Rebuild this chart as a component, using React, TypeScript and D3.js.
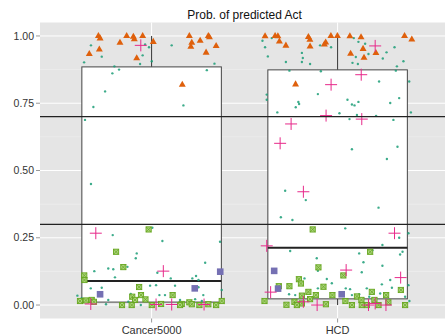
import React from 'react';
import * as d3 from 'd3';

// categories and box statistics
const categories = ['Cancer5000', 'HCD'];
const boxLower = [0.0, 0.0];
const boxQ1 = [0.011, 0.023];
const boxMedian = [0.089, 0.213];
const boxQ3 = [0.885, 0.874];
const boxUpper = [1.0, 1.0];
const thresholds = [0.7, 0.3];
const yTicks = [0, 0.25, 0.5, 0.75, 1];
const yMinor = [0.125, 0.375, 0.625, 0.875];

// jittered points: [x position (1 = Cancer5000, 2 = HCD), probability]
const triangles = [
  [0.714, 1.0], [0.723, 0.991], [0.719, 0.95], [0.665, 0.933], [0.83, 0.975], [0.866, 1.0], [0.902, 0.997],
  [0.907, 0.988], [0.952, 1.0], [1.009, 0.978], [0.92, 0.917], [1.203, 1.0], [1.216, 0.975], [1.211, 0.96],
  [1.261, 0.982], [1.305, 1.0], [1.311, 0.995], [1.347, 0.963], [1.293, 0.938], [1.165, 0.819],
  [1.61, 0.999], [1.664, 1.0], [1.679, 0.999], [1.687, 0.979], [1.722, 0.964], [1.843, 0.996], [1.851, 0.986],
  [1.852, 0.961], [1.936, 0.976], [1.929, 0.968], [1.964, 1.0], [1.999, 1.0], [2.066, 0.999], [2.126, 0.995],
  [2.137, 0.952], [2.07, 0.934], [2.206, 0.937], [2.142, 0.919], [2.36, 1.0], [2.399, 0.987], [1.774, 0.82],
];

const dots = [
  [0.674, 0.965], [0.732, 0.923], [0.637, 0.902], [0.965, 0.968], [0.986, 0.958], [0.952, 0.928], [0.938, 0.896],
  [1.001, 0.906], [0.8, 0.887], [0.825, 0.875], [0.789, 0.861], [1.108, 0.965], [1.338, 0.897], [1.297, 0.873],
  [0.75, 0.794], [0.687, 0.736], [1.171, 0.742], [0.642, 0.688], [0.674, 0.45],
  [1.004, 0.287], [0.791, 0.26], [1.058, 0.238], [0.92, 0.192], [0.915, 0.174], [0.767, 0.136], [0.794, 0.133],
  [1.288, 0.157], [0.87, 0.142], [0.692, 0.126], [0.803, 0.103], [1.103, 0.099], [1.031, 0.12], [1.219, 0.099],
  [1.239, 0.108], [1.252, 0.093], [1.368, 0.235], [0.673, 0.062], [0.732, 0.064], [0.992, 0.072], [1.024, 0.074],
  [1.126, 0.072], [1.252, 0.066], [1.377, 0.056], [0.601, 0.035], [0.624, 0.025], [0.888, 0.041], [1.042, 0.037],
  [1.072, 0.037], [1.278, 0.037], [0.767, 0.019], [0.755, 0.003], [0.875, 0.012], [0.942, 0.0], [1.153, 0.019],
  [1.234, 0.022], [1.27, 0.015],
  [1.596, 0.982], [1.61, 0.958], [1.625, 0.924], [1.646, 0.992], [1.722, 0.903], [1.808, 0.937], [1.813, 0.918],
  [1.808, 0.903], [1.852, 0.896], [1.843, 1.0], [1.906, 0.965], [1.965, 0.958], [1.741, 0.871], [1.91, 0.869],
  [2.087, 0.992], [2.112, 0.978], [2.148, 0.971], [2.098, 0.922], [2.08, 0.9], [2.109, 0.896], [2.166, 0.933],
  [2.243, 0.916], [2.263, 0.939], [2.306, 0.958], [2.354, 0.906], [2.319, 0.887], [2.313, 0.871], [2.385, 0.831],
  [2.223, 0.831], [1.894, 0.784], [1.619, 0.782], [1.619, 0.763], [1.789, 0.755], [2.053, 0.763], [2.077, 0.745],
  [2.091, 0.742], [2.112, 0.755], [2.283, 0.751], [2.331, 0.769], [1.676, 0.716], [1.775, 0.735], [1.793, 0.747],
  [2.01, 0.713], [2.064, 0.691], [2.104, 0.706], [2.207, 0.703], [2.3, 0.688], [2.394, 0.716], [2.077, 0.579],
  [2.322, 0.588], [2.265, 0.543], [1.718, 0.425], [1.829, 0.39], [2.22, 0.362], [1.695, 0.326], [1.757, 0.316],
  [2.041, 0.285], [2.331, 0.25], [2.381, 0.267], [1.745, 0.201], [2.116, 0.192], [2.187, 0.204], [2.241, 0.223],
  [2.349, 0.198], [2.336, 0.188], [1.888, 0.174], [2.139, 0.159], [2.241, 0.146], [2.13, 0.122], [1.894, 0.127],
  [1.942, 0.097], [2.023, 0.114], [2.283, 0.093], [2.381, 0.074], [1.822, 0.099], [1.894, 0.062], [1.969, 0.081],
  [2.044, 0.062], [2.157, 0.062], [2.238, 0.077], [2.292, 0.064], [2.067, 0.059], [1.739, 0.04], [1.772, 0.037],
  [2.077, 0.037], [2.116, 0.04], [2.17, 0.031], [2.229, 0.043], [2.363, 0.031], [2.386, 0.015],
];

const pluses = [
  [0.942, 0.965], [0.7, 0.267], [1.063, 0.126], [0.673, 0.004], [1.024, 0.002], [1.108, 0.002], [1.282, 0.002],
  [2.202, 0.963], [2.127, 0.856], [1.965, 0.819], [1.938, 0.704], [2.13, 0.691], [1.75, 0.673], [1.691, 0.601],
  [1.816, 0.421], [1.619, 0.22], [2.306, 0.267], [2.046, 0.13], [2.339, 0.102], [1.64, 0.048], [1.816, 0.012],
  [1.89, 0.0], [2.166, 0.0], [2.202, 0.006], [2.26, 0.0],
];

const squares = [
  [0.723, 0.04], [1.232, 0.062], [1.369, 0.124],
  [1.659, 0.127], [1.68, 0.061], [2.022, 0.04],
];

const crossSquares = [
  [0.984, 0.281], [0.809, 0.198], [0.848, 0.141], [0.638, 0.11], [0.639, 0.093], [0.933, 0.067], [1.113, 0.037],
  [0.896, 0.031], [0.943, 0.037], [0.911, 0.019], [0.615, 0.015], [0.678, 0.019], [0.69, 0.012], [0.841, 0.0],
  [0.893, 0.0], [0.967, 0.021], [1.051, 0.004], [1.162, 0.004], [1.203, 0.01], [1.216, 0.003], [1.257, 0.0],
  [1.305, 0.003], [1.347, 0.0], [1.377, 0.015], [1.001, 0.0], [1.153, 0.0], [0.647, 0.017],
  [1.866, 0.281], [2.175, 0.198], [1.897, 0.14], [2.031, 0.11], [1.792, 0.096], [1.803, 0.08], [1.741, 0.07],
  [1.684, 0.07], [1.843, 0.049], [1.924, 0.068], [1.883, 0.037], [1.808, 0.035], [1.607, 0.015], [1.725, 0.001],
  [1.768, 0.012], [1.808, 0.006], [1.852, 0.022], [1.937, 0.003], [1.972, 0.037], [2.042, 0.015], [2.077, 0.0],
  [2.104, 0.032], [2.128, 0.019], [2.184, 0.049], [2.157, 0.0], [2.198, 0.019], [2.22, 0.0], [2.261, 0.037],
  [2.273, 0.01], [2.34, 0.056], [2.363, 0.0], [1.781, 0.0], [2.13, 0.0],
];

const W = 445;
const H = 336;
const font = 'Liberation Sans, Arial, Helvetica, sans-serif';

export default function App() {
  const x = d3.scaleLinear().domain([0.4, 2.6]).range([40, 449.2]);
  const y = d3.scaleLinear().domain([-0.05, 1.05]).range([318.5, 22.5]);
  const [x0, x1] = x.range();
  const [yb, yt] = y.range();
  const halfBox = 0.375;
  const tri = d3.symbol().type(d3.symbolTriangle).size(21)();

  return (
    <svg width={W} height={H} style={{ position: 'absolute', left: 0, top: 0 }} fontFamily={font}>
      <rect x={0} y={0} width={W} height={H} fill="#fff" />
      <text x={(x0 + x1) / 2} y={19} textAnchor="middle" fontSize={12} fill="#111">Prob. of predicted Act</text>

      {/* panel */}
      <rect x={x0} y={yt} width={x1 - x0} height={yb - yt} fill="#E5E5E5" />
      {yMinor.map((v) => (
        <line key={'mi' + v} x1={x0} x2={x1} y1={y(v)} y2={y(v)} stroke="#F2F2F2" strokeWidth={0.5} />
      ))}
      {yTicks.map((v) => (
        <line key={'ma' + v} x1={x0} x2={x1} y1={y(v)} y2={y(v)} stroke="#fff" strokeWidth={1} />
      ))}
      {categories.map((c, i) => (
        <line key={'vg' + c} x1={x(i + 1)} x2={x(i + 1)} y1={yt} y2={yb} stroke="#fff" strokeWidth={1} />
      ))}

      {/* boxplots */}
      {categories.map((c, i) => {
        const cx = x(i + 1);
        const l = x(i + 1 - halfBox);
        const r = x(i + 1 + halfBox);
        return (
          <g key={'box' + c}>
            <line x1={cx} x2={cx} y1={y(boxQ3[i])} y2={y(boxUpper[i])} stroke="#333" strokeWidth={1} />
            <line x1={cx} x2={cx} y1={y(boxQ1[i])} y2={y(boxLower[i])} stroke="#333" strokeWidth={1} />
            <rect x={l} y={y(boxQ3[i])} width={r - l} height={y(boxQ1[i]) - y(boxQ3[i])}
              fill="#fff" stroke="#444" strokeWidth={1} />
            <line x1={l} x2={r} y1={y(boxMedian[i])} y2={y(boxMedian[i])} stroke="#222" strokeWidth={2} />
          </g>
        );
      })}

      {/* points */}
      {dots.map((d, i) => (
        <circle key={'d' + i} cx={x(d[0])} cy={y(d[1])} r={1.2} fill="#1B9E77" fillOpacity={0.85} />
      ))}
      {crossSquares.map((d, i) => {
        const px = x(d[0]);
        const py = y(d[1]);
        const s = 2.6;
        return (
          <g key={'g' + i}>
            <rect x={px - s} y={py - s} width={2 * s} height={2 * s} fill="#A9D27A" stroke="#66A61E" strokeWidth={0.9} />
            <path d={`M${px - s},${py - s}L${px + s},${py + s}M${px - s},${py + s}L${px + s},${py - s}`}
              stroke="#66A61E" strokeWidth={0.7} />
          </g>
        );
      })}
      {squares.map((d, i) => (
        <rect key={'s' + i} x={x(d[0]) - 3.3} y={y(d[1]) - 3.3} width={6.6} height={6.6} fill="#7570B3" />
      ))}
      {triangles.map((d, i) => (
        <path key={'t' + i} d={tri} transform={`translate(${x(d[0])},${y(d[1])})`} fill="#DF600C" />
      ))}
      {pluses.map((d, i) => {
        const px = x(d[0]);
        const py = y(d[1]);
        return (
          <path key={'p' + i} d={`M${px - 6},${py}H${px + 6}M${px},${py - 6}V${py + 6}`}
            stroke="#E7298A" strokeWidth={1} fill="none" />
        );
      })}

      {/* thresholds */}
      {thresholds.map((t) => (
        <line key={'th' + t} x1={x0} x2={x1} y1={y(t)} y2={y(t)} stroke="#222" strokeWidth={1.3} />
      ))}

      {/* y axis */}
      {yTicks.map((v) => (
        <g key={'yt' + v}>
          <line x1={x0 - 4} x2={x0} y1={y(v)} y2={y(v)} stroke="#7F7F7F" strokeWidth={0.8} />
          <text x={x0 - 6} y={y(v)} dy="0.35em" textAnchor="end" fontSize={10.5} fill="#333">
            {d3.format('.2f')(v)}
          </text>
        </g>
      ))}

      {/* x axis */}
      {categories.map((c, i) => (
        <g key={'xt' + c}>
          <line x1={x(i + 1)} x2={x(i + 1)} y1={yb} y2={yb + 4} stroke="#7F7F7F" strokeWidth={0.8} />
          <text x={x(i + 1)} y={334} textAnchor="middle" fontSize={11} fill="#333">{c}</text>
        </g>
      ))}
    </svg>
  );
}
